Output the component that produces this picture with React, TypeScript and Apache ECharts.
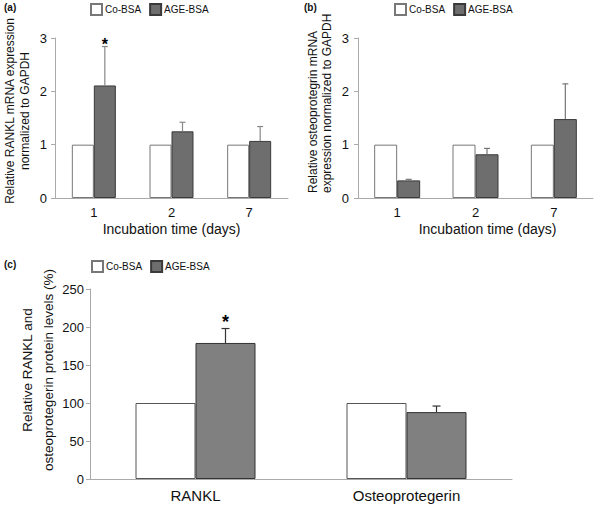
import React, { useEffect, useRef } from "react";
import * as echarts from "echarts";

// ---------- data ----------
const days = ["1", "2", "7"];
const ranklCo = [1, 1, 1];
const ranklAge = [2.11, 1.25, 1.07];
const ranklAgeErrTop = [2.84, 1.42, 1.34];
const ranklSig = [1, 0, 0];

const opgCo = [1, 1, 1];
const opgAge = [0.33, 0.82, 1.48];
const opgAgeErrTop = [0.35, 0.93, 2.14];
const opgSig = [0, 0, 0];

const proteins = ["RANKL", "Osteoprotegerin"];
const protCo = [100, 100];
const protAge = [179, 88];
const protAgeErrTop = [198, 96];
const protSig = [1, 0];

const FONT = "'Liberation Sans', Arial, Helvetica, sans-serif";

export default function App() {
  const ref = useRef<HTMLDivElement>(null);

  useEffect(() => {
    if (!ref.current) return;
    const chart = echarts.init(ref.current, undefined, { renderer: "svg" });

    const errRender = (bw: number, cap: number, color: string, starOff: number, starSize: number) =>
      (params: any, api: any) => {
        const i = api.value(0);
        const top = api.coord([i, api.value(1)]);
        const end = api.coord([i, api.value(2)]);
        const x = top[0] + bw / 2;
        const children: any[] = [
          { type: "line", shape: { x1: x, y1: top[1], x2: x, y2: end[1] }, style: { stroke: color, lineWidth: 1.2 } },
          { type: "line", shape: { x1: x - cap, y1: end[1], x2: x + cap, y2: end[1] }, style: { stroke: color, lineWidth: 1.2 } },
        ];
        if (api.value(3) === 1) {
          children.push({
            type: "text",
            x: x,
            y: end[1] - starOff,
            style: { text: "*", fill: "#000", font: `bold ${starSize}px ${FONT}`, textAlign: "center", textVerticalAlign: "middle" },
          });
        }
        return { type: "group", children };
      };

    const toErrData = (age: number[], err: number[], sig: number[]) =>
      age.map((v, i) => [i, v, err[i], sig[i]]);

    const yAxisBase = (gi: number, max: number, interval: number, margin: number, fs: number) => ({
      type: "value",
      gridIndex: gi,
      min: 0,
      max,
      interval,
      axisLine: { show: true, lineStyle: { color: "#aaa", width: 1 } },
      axisTick: { show: true, length: 4, lineStyle: { color: "#aaa" } },
      splitLine: { show: false },
      axisLabel: { color: "#111", fontSize: fs, fontFamily: FONT, margin },
    });

    const xAxisBase = (gi: number, cats: string[], fs: number, name: string, namePad: number[]) => ({
      type: "category",
      gridIndex: gi,
      data: cats,
      axisLine: { show: true, lineStyle: { color: "#aaa", width: 1 } },
      axisTick: { show: false },
      axisLabel: { color: "#111", fontSize: fs, fontFamily: FONT, margin: 8 },
      name,
      nameLocation: "middle",
      nameGap: 24,
      nameTextStyle: { color: "#111", fontSize: 14, fontFamily: FONT, padding: namePad },
    });

    const legendBase = (left: number, top: number) => ({
      left,
      top,
      orient: "horizontal",
      data: ["Co-BSA", "AGE-BSA"],
      icon: "rect",
      itemWidth: 11,
      itemHeight: 11,
      itemGap: 8,
      padding: 0,
      selectedMode: false,
      textStyle: { fontSize: 10, fontFamily: FONT, color: "#111", padding: [0, 0, 0, -2] },
    });

    const coStyle = { color: "#ffffff", borderColor: "#777", borderWidth: 1 };
    const ageStyle = { color: "#6e6e6e", borderColor: "#3a3a3a", borderWidth: 1 };
    const ageStyleC = { color: "#808080", borderColor: "#333", borderWidth: 1 };

    const option: any = {
      animation: false,
      backgroundColor: "#fff",
      textStyle: { fontFamily: FONT },
      grid: [
        { left: 55, top: 38, width: 233, height: 160 },
        { left: 358, top: 38, width: 235, height: 160 },
        { left: 90, top: 289, width: 422, height: 190 },
      ],
      legend: [legendBase(90, 3), legendBase(394, 3), legendBase(91, 260)],
      xAxis: [
        xAxisBase(0, days, 13, "Incubation time (days)", [0, 0, 0, 0]),
        xAxisBase(1, days, 13, "Incubation time (days)", [0, 0, 0, 24]),
        { ...xAxisBase(2, proteins, 14, "", [0, 0, 0, 0]), axisLabel: { color: "#111", fontSize: 15, fontFamily: FONT, margin: 9 } },
      ],
      yAxis: [
        yAxisBase(0, 3, 1, 8, 13),
        yAxisBase(1, 3, 1, 9, 13),
        yAxisBase(2, 250, 50, 6, 13),
      ],
      series: [
        { name: "Co-BSA", type: "bar", xAxisIndex: 0, yAxisIndex: 0, data: ranklCo, barWidth: 22, barGap: "0%", itemStyle: coStyle },
        { name: "AGE-BSA", type: "bar", xAxisIndex: 0, yAxisIndex: 0, data: ranklAge, barWidth: 22, barGap: "0%", itemStyle: ageStyle },
        {
          name: "errA", type: "custom", xAxisIndex: 0, yAxisIndex: 0, z: 5,
          data: toErrData(ranklAge, ranklAgeErrTop, ranklSig),
          renderItem: errRender(22, 3, "#888", 2, 16),
        },
        { name: "Co-BSA", type: "bar", xAxisIndex: 1, yAxisIndex: 1, data: opgCo, barWidth: 23, barGap: "0%", itemStyle: coStyle },
        { name: "AGE-BSA", type: "bar", xAxisIndex: 1, yAxisIndex: 1, data: opgAge, barWidth: 23, barGap: "0%", itemStyle: ageStyle },
        {
          name: "errB", type: "custom", xAxisIndex: 1, yAxisIndex: 1, z: 5,
          data: toErrData(opgAge, opgAgeErrTop, opgSig),
          renderItem: errRender(23, 3, "#777", 2, 16),
        },
        { name: "Co-BSA", type: "bar", xAxisIndex: 2, yAxisIndex: 2, data: protCo, barWidth: 60, barGap: "0%", itemStyle: { ...coStyle, borderColor: "#555" } },
        { name: "AGE-BSA", type: "bar", xAxisIndex: 2, yAxisIndex: 2, data: protAge, barWidth: 60, barGap: "0%", itemStyle: ageStyleC },
        {
          name: "errC", type: "custom", xAxisIndex: 2, yAxisIndex: 2, z: 5,
          data: toErrData(protAge, protAgeErrTop, protSig),
          renderItem: errRender(60, 4, "#333", 7, 18),
        },
      ],
      graphic: [
        { type: "text", left: 4, top: 2, style: { text: "(a)", font: `bold 10px ${FONT}`, fill: "#111" } },
        { type: "text", left: 304, top: 2, style: { text: "(b)", font: `bold 10px ${FONT}`, fill: "#111" } },
        { type: "text", left: 4, top: 259, style: { text: "(c)", font: `bold 10px ${FONT}`, fill: "#111" } },
        {
          type: "text", x: 17.5, y: 111, rotation: Math.PI / 2,
          style: {
            text: "Relative RANKL mRNA expression\nnormalized to GAPDH",
            font: `12px ${FONT}`, fill: "#111", textAlign: "center", textVerticalAlign: "middle", lineHeight: 15,
          },
        },
        {
          type: "text", x: 320, y: 193, rotation: Math.PI / 2,
          style: {
            text: "Relative osteoprotegrin mRNA\nexpression normalized to GAPDH",
            font: `12px ${FONT}`, fill: "#111", textAlign: "left", textVerticalAlign: "middle", lineHeight: 13.5,
          },
        },
        {
          type: "text", x: 38, y: 370, rotation: Math.PI / 2,
          style: {
            text: "Relative RANKL and\nosteoprotegerin protein levels (%)",
            font: `13.5px ${FONT}`, fill: "#111", textAlign: "center", textVerticalAlign: "middle", lineHeight: 21,
          },
        },
      ],
    };

    chart.setOption(option);
    return () => chart.dispose();
  }, []);

  return <div ref={ref} style={{ position: "fixed", left: 0, top: 0, width: 600, height: 505, background: "#fff" }} />;
}
